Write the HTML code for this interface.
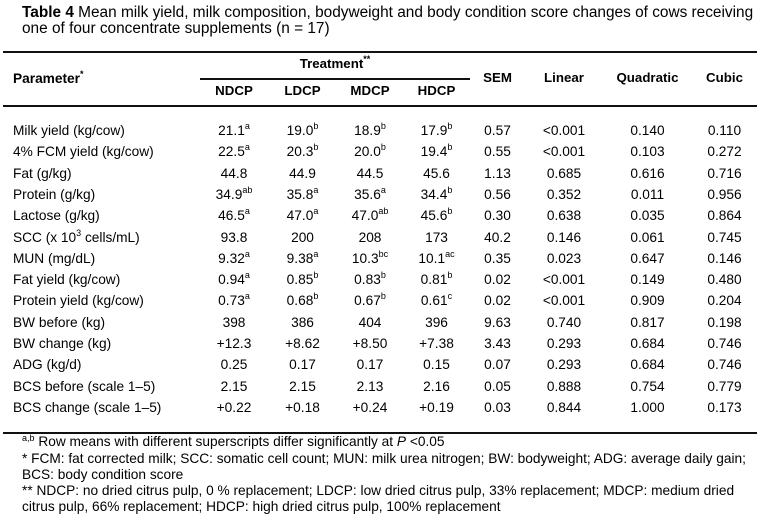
<!DOCTYPE html>
<html><head><meta charset="utf-8">
<style>
html,body{margin:0;padding:0;background:#fff;}
body{width:760px;height:517px;position:relative;overflow:hidden;font-family:"Liberation Sans",Arial,sans-serif;color:#000;}
.t{position:absolute;white-space:nowrap;}
.title{font-size:15.4px;line-height:16px;left:22px;}
.rule{position:absolute;background:#111;height:1.5px;}
.c{position:absolute;text-align:center;font-size:13.7px;line-height:18px;height:18px;white-space:nowrap;}
.h{font-weight:bold;font-size:13.3px;}
.lab{position:absolute;left:13px;font-size:13.7px;line-height:18px;white-space:nowrap;}
sup{font-size:9px;line-height:0;vertical-align:0;position:relative;top:-6px;}
.fn{position:absolute;left:22px;font-size:13.7px;line-height:16px;white-space:nowrap;}
</style></head><body>
<div class="t title" style="top:5px;"><b>Table 4</b> Mean milk yield, milk composition, bodyweight and body condition score changes of cows receiving</div>
<div class="t title" style="top:21px;">one of four concentrate supplements (n = 17)</div>

<div class="rule" style="left:3px;width:754px;top:51px;"></div>
<div class="rule" style="left:200px;width:270px;top:78px;"></div>
<div class="rule" style="left:3px;width:754px;top:105px;"></div>
<div class="rule" style="left:3px;width:754px;top:432px;"></div>

<div class="lab h" style="top:70px;">Parameter<sup>*</sup></div>
<div class="c h" style="left:200px;width:270px;top:55px;">Treatment<sup>**</sup></div>
<div class="c h" style="left:200px;width:68px;top:82px;">NDCP</div>
<div class="c h" style="left:268px;width:69px;top:82px;">LDCP</div>
<div class="c h" style="left:337px;width:66px;top:82px;">MDCP</div>
<div class="c h" style="left:403px;width:67px;top:82px;">HDCP</div>
<div class="c h" style="left:470px;width:55px;top:69px;">SEM</div>
<div class="c h" style="left:525px;width:78px;top:69px;">Linear</div>
<div class="c h" style="left:603px;width:89px;top:69px;">Quadratic</div>
<div class="c h" style="left:692px;width:65px;top:69px;">Cubic</div>

<div class="lab" style="top:122px">Milk yield (kg/cow)</div>
<div class="c" style="left:200px;width:68px;top:122px">21.1<sup>a</sup></div>
<div class="c" style="left:268px;width:69px;top:122px">19.0<sup>b</sup></div>
<div class="c" style="left:337px;width:66px;top:122px">18.9<sup>b</sup></div>
<div class="c" style="left:403px;width:67px;top:122px">17.9<sup>b</sup></div>
<div class="c" style="left:470px;width:55px;top:122px">0.57</div>
<div class="c" style="left:525px;width:78px;top:122px">&lt;0.001</div>
<div class="c" style="left:603px;width:89px;top:122px">0.140</div>
<div class="c" style="left:692px;width:65px;top:122px">0.110</div>

<div class="lab" style="top:143.3px">4% FCM yield (kg/cow)</div>
<div class="c" style="left:200px;width:68px;top:143.3px">22.5<sup>a</sup></div>
<div class="c" style="left:268px;width:69px;top:143.3px">20.3<sup>b</sup></div>
<div class="c" style="left:337px;width:66px;top:143.3px">20.0<sup>b</sup></div>
<div class="c" style="left:403px;width:67px;top:143.3px">19.4<sup>b</sup></div>
<div class="c" style="left:470px;width:55px;top:143.3px">0.55</div>
<div class="c" style="left:525px;width:78px;top:143.3px">&lt;0.001</div>
<div class="c" style="left:603px;width:89px;top:143.3px">0.103</div>
<div class="c" style="left:692px;width:65px;top:143.3px">0.272</div>

<div class="lab" style="top:164.6px">Fat (g/kg)</div>
<div class="c" style="left:200px;width:68px;top:164.6px">44.8</div>
<div class="c" style="left:268px;width:69px;top:164.6px">44.9</div>
<div class="c" style="left:337px;width:66px;top:164.6px">44.5</div>
<div class="c" style="left:403px;width:67px;top:164.6px">45.6</div>
<div class="c" style="left:470px;width:55px;top:164.6px">1.13</div>
<div class="c" style="left:525px;width:78px;top:164.6px">0.685</div>
<div class="c" style="left:603px;width:89px;top:164.6px">0.616</div>
<div class="c" style="left:692px;width:65px;top:164.6px">0.716</div>

<div class="lab" style="top:185.9px">Protein (g/kg)</div>
<div class="c" style="left:200px;width:68px;top:185.9px">34.9<sup>ab</sup></div>
<div class="c" style="left:268px;width:69px;top:185.9px">35.8<sup>a</sup></div>
<div class="c" style="left:337px;width:66px;top:185.9px">35.6<sup>a</sup></div>
<div class="c" style="left:403px;width:67px;top:185.9px">34.4<sup>b</sup></div>
<div class="c" style="left:470px;width:55px;top:185.9px">0.56</div>
<div class="c" style="left:525px;width:78px;top:185.9px">0.352</div>
<div class="c" style="left:603px;width:89px;top:185.9px">0.011</div>
<div class="c" style="left:692px;width:65px;top:185.9px">0.956</div>

<div class="lab" style="top:207.2px">Lactose (g/kg)</div>
<div class="c" style="left:200px;width:68px;top:207.2px">46.5<sup>a</sup></div>
<div class="c" style="left:268px;width:69px;top:207.2px">47.0<sup>a</sup></div>
<div class="c" style="left:337px;width:66px;top:207.2px">47.0<sup>ab</sup></div>
<div class="c" style="left:403px;width:67px;top:207.2px">45.6<sup>b</sup></div>
<div class="c" style="left:470px;width:55px;top:207.2px">0.30</div>
<div class="c" style="left:525px;width:78px;top:207.2px">0.638</div>
<div class="c" style="left:603px;width:89px;top:207.2px">0.035</div>
<div class="c" style="left:692px;width:65px;top:207.2px">0.864</div>

<div class="lab" style="top:228.5px">SCC (x 10<sup>3</sup> cells/mL)</div>
<div class="c" style="left:200px;width:68px;top:228.5px">93.8</div>
<div class="c" style="left:268px;width:69px;top:228.5px">200</div>
<div class="c" style="left:337px;width:66px;top:228.5px">208</div>
<div class="c" style="left:403px;width:67px;top:228.5px">173</div>
<div class="c" style="left:470px;width:55px;top:228.5px">40.2</div>
<div class="c" style="left:525px;width:78px;top:228.5px">0.146</div>
<div class="c" style="left:603px;width:89px;top:228.5px">0.061</div>
<div class="c" style="left:692px;width:65px;top:228.5px">0.745</div>

<div class="lab" style="top:249.8px">MUN (mg/dL)</div>
<div class="c" style="left:200px;width:68px;top:249.8px">9.32<sup>a</sup></div>
<div class="c" style="left:268px;width:69px;top:249.8px">9.38<sup>a</sup></div>
<div class="c" style="left:337px;width:66px;top:249.8px">10.3<sup>bc</sup></div>
<div class="c" style="left:403px;width:67px;top:249.8px">10.1<sup>ac</sup></div>
<div class="c" style="left:470px;width:55px;top:249.8px">0.35</div>
<div class="c" style="left:525px;width:78px;top:249.8px">0.023</div>
<div class="c" style="left:603px;width:89px;top:249.8px">0.647</div>
<div class="c" style="left:692px;width:65px;top:249.8px">0.146</div>

<div class="lab" style="top:271.1px">Fat yield (kg/cow)</div>
<div class="c" style="left:200px;width:68px;top:271.1px">0.94<sup>a</sup></div>
<div class="c" style="left:268px;width:69px;top:271.1px">0.85<sup>b</sup></div>
<div class="c" style="left:337px;width:66px;top:271.1px">0.83<sup>b</sup></div>
<div class="c" style="left:403px;width:67px;top:271.1px">0.81<sup>b</sup></div>
<div class="c" style="left:470px;width:55px;top:271.1px">0.02</div>
<div class="c" style="left:525px;width:78px;top:271.1px">&lt;0.001</div>
<div class="c" style="left:603px;width:89px;top:271.1px">0.149</div>
<div class="c" style="left:692px;width:65px;top:271.1px">0.480</div>

<div class="lab" style="top:292.4px">Protein yield (kg/cow)</div>
<div class="c" style="left:200px;width:68px;top:292.4px">0.73<sup>a</sup></div>
<div class="c" style="left:268px;width:69px;top:292.4px">0.68<sup>b</sup></div>
<div class="c" style="left:337px;width:66px;top:292.4px">0.67<sup>b</sup></div>
<div class="c" style="left:403px;width:67px;top:292.4px">0.61<sup>c</sup></div>
<div class="c" style="left:470px;width:55px;top:292.4px">0.02</div>
<div class="c" style="left:525px;width:78px;top:292.4px">&lt;0.001</div>
<div class="c" style="left:603px;width:89px;top:292.4px">0.909</div>
<div class="c" style="left:692px;width:65px;top:292.4px">0.204</div>

<div class="lab" style="top:313.7px">BW before (kg)</div>
<div class="c" style="left:200px;width:68px;top:313.7px">398</div>
<div class="c" style="left:268px;width:69px;top:313.7px">386</div>
<div class="c" style="left:337px;width:66px;top:313.7px">404</div>
<div class="c" style="left:403px;width:67px;top:313.7px">396</div>
<div class="c" style="left:470px;width:55px;top:313.7px">9.63</div>
<div class="c" style="left:525px;width:78px;top:313.7px">0.740</div>
<div class="c" style="left:603px;width:89px;top:313.7px">0.817</div>
<div class="c" style="left:692px;width:65px;top:313.7px">0.198</div>

<div class="lab" style="top:335px">BW change (kg)</div>
<div class="c" style="left:200px;width:68px;top:335px">+12.3</div>
<div class="c" style="left:268px;width:69px;top:335px">+8.62</div>
<div class="c" style="left:337px;width:66px;top:335px">+8.50</div>
<div class="c" style="left:403px;width:67px;top:335px">+7.38</div>
<div class="c" style="left:470px;width:55px;top:335px">3.43</div>
<div class="c" style="left:525px;width:78px;top:335px">0.293</div>
<div class="c" style="left:603px;width:89px;top:335px">0.684</div>
<div class="c" style="left:692px;width:65px;top:335px">0.746</div>

<div class="lab" style="top:356.3px">ADG (kg/d)</div>
<div class="c" style="left:200px;width:68px;top:356.3px">0.25</div>
<div class="c" style="left:268px;width:69px;top:356.3px">0.17</div>
<div class="c" style="left:337px;width:66px;top:356.3px">0.17</div>
<div class="c" style="left:403px;width:67px;top:356.3px">0.15</div>
<div class="c" style="left:470px;width:55px;top:356.3px">0.07</div>
<div class="c" style="left:525px;width:78px;top:356.3px">0.293</div>
<div class="c" style="left:603px;width:89px;top:356.3px">0.684</div>
<div class="c" style="left:692px;width:65px;top:356.3px">0.746</div>

<div class="lab" style="top:377.6px">BCS before (scale 1–5)</div>
<div class="c" style="left:200px;width:68px;top:377.6px">2.15</div>
<div class="c" style="left:268px;width:69px;top:377.6px">2.15</div>
<div class="c" style="left:337px;width:66px;top:377.6px">2.13</div>
<div class="c" style="left:403px;width:67px;top:377.6px">2.16</div>
<div class="c" style="left:470px;width:55px;top:377.6px">0.05</div>
<div class="c" style="left:525px;width:78px;top:377.6px">0.888</div>
<div class="c" style="left:603px;width:89px;top:377.6px">0.754</div>
<div class="c" style="left:692px;width:65px;top:377.6px">0.779</div>

<div class="lab" style="top:398.9px">BCS change (scale 1–5)</div>
<div class="c" style="left:200px;width:68px;top:398.9px">+0.22</div>
<div class="c" style="left:268px;width:69px;top:398.9px">+0.18</div>
<div class="c" style="left:337px;width:66px;top:398.9px">+0.24</div>
<div class="c" style="left:403px;width:67px;top:398.9px">+0.19</div>
<div class="c" style="left:470px;width:55px;top:398.9px">0.03</div>
<div class="c" style="left:525px;width:78px;top:398.9px">0.844</div>
<div class="c" style="left:603px;width:89px;top:398.9px">1.000</div>
<div class="c" style="left:692px;width:65px;top:398.9px">0.173</div>

<div class="fn" style="top:434px"><sup style="top:-5px">a,b</sup> Row means with different superscripts differ significantly at <i>P</i> &lt;0.05</div>
<div class="fn" style="top:450.5px">* FCM: fat corrected milk; SCC: somatic cell count; MUN: milk urea nitrogen; BW: bodyweight; ADG: average daily gain;</div>
<div class="fn" style="top:466.5px">BCS: body condition score</div>
<div class="fn" style="top:482.5px">** NDCP: no dried citrus pulp, 0 % replacement; LDCP: low dried citrus pulp, 33% replacement; MDCP: medium dried</div>
<div class="fn" style="top:498.5px">citrus pulp, 66% replacement; HDCP: high dried citrus pulp, 100% replacement</div>
</body></html>
